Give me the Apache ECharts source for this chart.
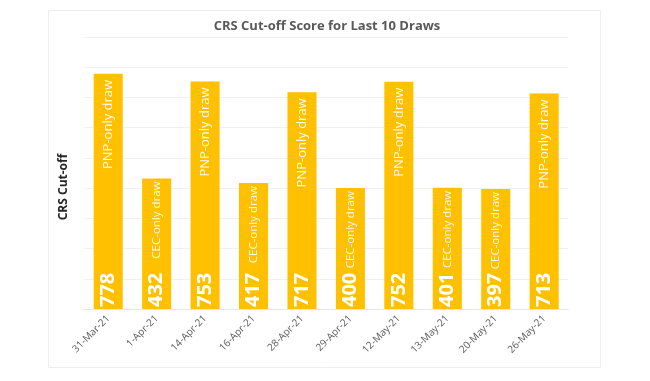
<!DOCTYPE html>
<html>
<head>
<meta charset="utf-8">
<script src="https://cdn.jsdelivr.net/npm/echarts@6/dist/echarts.min.js"></script>
<style>html,body{margin:0;padding:0;background:#fff;}#c{width:650px;height:381px;}</style>
</head>
<body>
<div id="c"></div>
<script>
var categories = ['31-Mar-21','1-Apr-21','14-Apr-21','16-Apr-21','28-Apr-21','29-Apr-21','12-May-21','13-May-21','20-May-21','26-May-21'];
var scores = [778, 432, 753, 417, 717, 400, 752, 401, 397, 713];
var drawTypes = ['PNP-only draw','CEC-only draw','PNP-only draw','CEC-only draw','PNP-only draw','CEC-only draw','PNP-only draw','CEC-only draw','CEC-only draw','PNP-only draw'];
var yMax = 900, yInterval = 100;

var chart = echarts.init(document.getElementById('c'));
var font = "'Open Sans', 'Liberation Sans', sans-serif";
var noteData = scores.map(function (v, i) {
  var pnp = drawTypes[i].indexOf('PNP') === 0;
  return {value: v, label: {fontSize: pnp ? 13 : 11.5, distance: pnp ? 6 : 3}};
});
chart.setOption({
  animation: false,
  backgroundColor: '#fff',
  graphic: [{
    type: 'rect', left: 46, top: 8, shape: {width: 552, height: 357},
    style: {fill: 'none', stroke: '#eeeeee', lineWidth: 1}, silent: true, z: -1
  }],
  title: {
    text: 'CRS Cut-off Score for Last 10 Draws',
    left: 322, top: 15, textAlign: 'center',
    textStyle: {fontFamily: font, fontSize: 13, fontWeight: 'bold', color: '#595959'}
  },
  grid: {left: 84, width: 484.4, top: 37, bottom: 72, containLabel: false},
  xAxis: {
    type: 'category', data: categories,
    axisLine: {show: true, lineStyle: {color: '#e6e6e6'}},
    axisTick: {show: false},
    axisLabel: {rotate: 45, interval: 0, fontFamily: font, fontSize: 10, color: '#595959', margin: 8}
  },
  yAxis: {
    type: 'value', min: 0, max: yMax, interval: yInterval,
    name: 'CRS Cut-off', nameLocation: 'middle', nameGap: 14, nameRotate: 90,
    nameTextStyle: {fontFamily: font, fontSize: 12, fontWeight: 'bold', color: '#262626', padding: [0, 0, 0, -28]},
    axisLabel: {show: false},
    axisLine: {show: false}, axisTick: {show: false},
    splitLine: {lineStyle: {color: '#f0f0f0'}}
  },
  series: [{
    type: 'bar', data: scores, barWidth: '60%',
    itemStyle: {color: '#FFC000'},
    label: {
      show: true, position: 'insideBottom', rotate: 90, align: 'left', verticalAlign: 'middle',
      distance: 2, fontFamily: font, fontSize: 20, fontWeight: 'bold', color: '#fff'
    }
  }, {
    type: 'bar', data: noteData, barWidth: '60%', barGap: '-100%',
    itemStyle: {color: 'rgba(0,0,0,0)'},
    label: {
      show: true, position: 'insideTop', rotate: 90, align: 'right', verticalAlign: 'middle',
      fontFamily: font, color: 'rgba(255,255,255,0.92)',
      formatter: function (p) { return drawTypes[p.dataIndex]; }
    }
  }]
});
</script>
</body>
</html>
